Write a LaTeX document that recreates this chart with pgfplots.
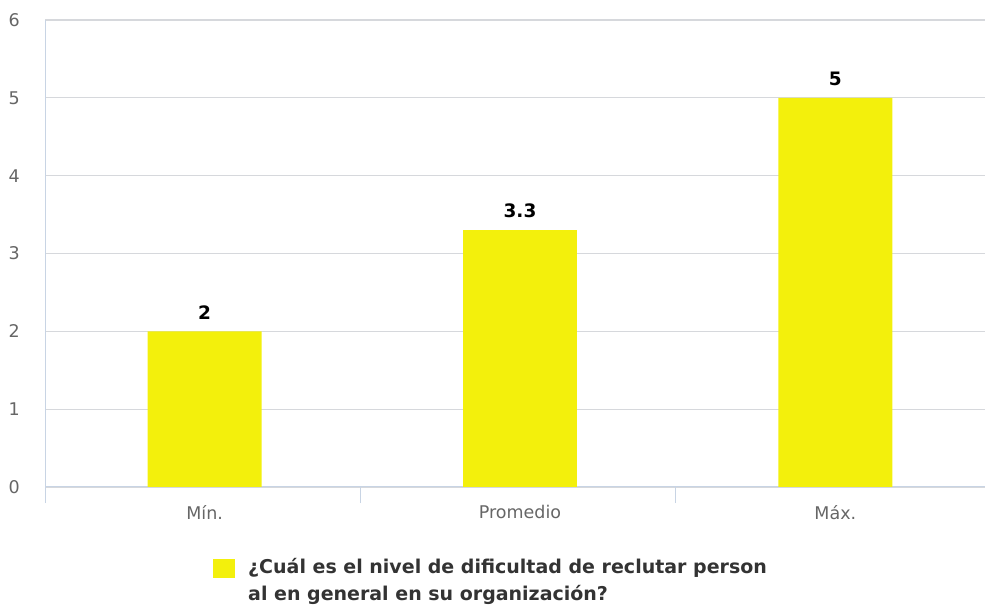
\documentclass[border=0pt]{standalone}
\usepackage{fontspec}
\setmainfont{DejaVu Sans}
\usepackage{pgfplots}
\pgfplotsset{compat=1.18}

\definecolor{barfill}{RGB}{243,240,12}
\definecolor{gridc}{RGB}{214,216,220}
\definecolor{axisc}{RGB}{200,212,228}
\definecolor{labc}{RGB}{102,102,102}
\definecolor{legc}{RGB}{51,51,51}

\begin{document}
\begin{tikzpicture}[x=1pt,y=1pt]
\useasboundingbox (0,0) rectangle (985,605);
\clip (0,0) rectangle (985,605);
\begin{axis}[
  at={(45pt,118pt)}, anchor=south west,
  scale only axis, width=948pt, height=467pt,
  xmin=-0.5063, xmax=2.5, ymin=0, ymax=6,
  ytick={0,1,2,3,4,5,6},
  % category separators on the x axis
  xtick={-0.5063,0.4937,1.4937,2.4937},
  xticklabels={,,,},
  x tick style={draw=axisc, line width=1pt},
  xtick align=outside,
  major tick length=16pt,
  % category names
  extra x ticks={0,1,2},
  extra x tick labels={Mín.,Promedio,Máx.},
  extra x tick style={major tick length=0pt, grid=none,
    major tick style={draw=none}},
  major y tick style={draw=none},
  ymajorgrids,
  grid style={draw=gridc, line width=1.2pt},
  axis x line*=bottom, axis y line*=left,
  x axis line style={draw=axisc, line width=1pt, -},
  y axis line style={draw=axisc, line width=1pt, -},
  /pgf/number format/assume math mode=true,
  tick label style={font=\fontsize{17.5}{20}\selectfont, text=labc},
  yticklabel style={anchor=east, inner sep=0pt, xshift=-25pt},
  xticklabel style={anchor=north, inner sep=0pt, yshift=-18pt},
  ybar, bar width=0.3615,
  nodes near coords,
  every node near coord/.append style={font=\fontsize{18.5}{20}\selectfont\bfseries,
    text=black, anchor=south, inner sep=0pt, yshift=12pt},
  legend style={at={(rel axis cs:0.1772,-0.148)}, anchor=north west,
    draw=none, fill=none, inner sep=0pt,
    font=\fontsize{19}{27}\selectfont\bfseries, text=legc,
    cells={align=left},
    /tikz/every odd column/.append style={column sep=11pt}},
  legend image code/.code={\fill[barfill] (0pt,2.5pt) rectangle (22pt,21.5pt);},
]
\addplot[fill=barfill, draw=none] coordinates {(0,2) (1,3.3) (2,5)};
\addlegendentry{¿Cuál es el nivel de dificultad de reclutar person\\al en general en su organización?}
\end{axis}
\end{tikzpicture}
\end{document}
